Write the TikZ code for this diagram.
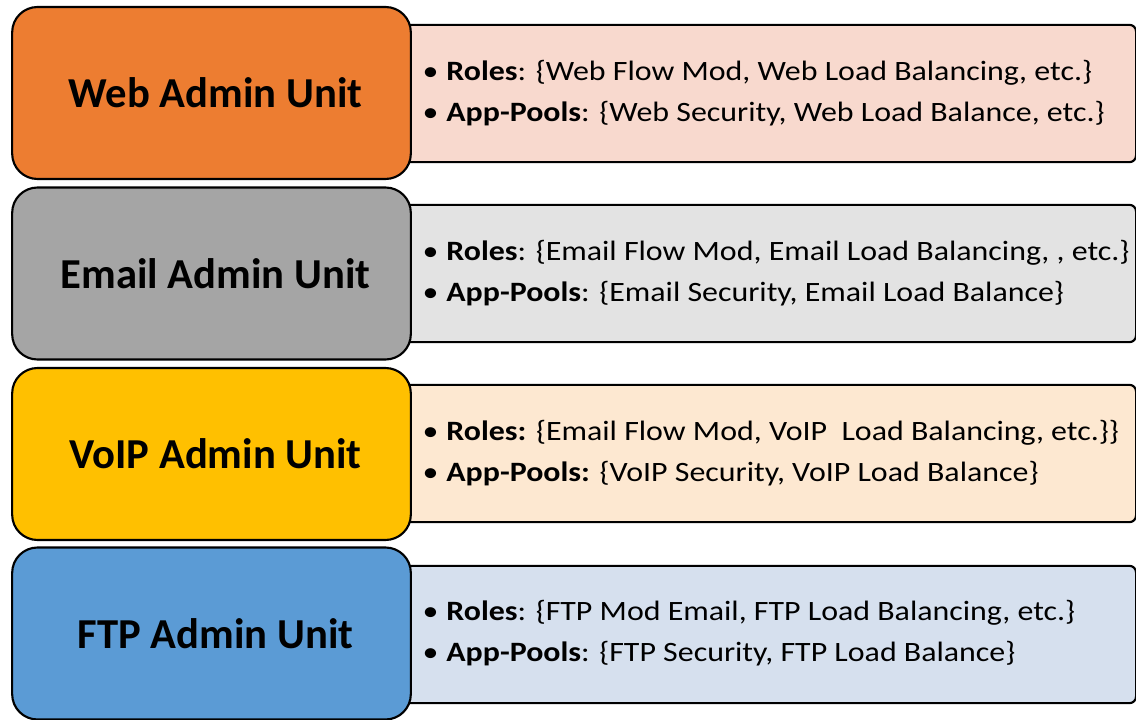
\documentclass[tikz,border=0pt]{standalone}
\usepackage{fontspec}
\setmainfont{Carlito}
\newfontfamily\infofont[FakeStretch=1.14]{Carlito}

\definecolor{webdark}{RGB}{237,125,49}
\definecolor{weblight}{RGB}{248,217,206}
\definecolor{maildark}{RGB}{165,165,165}
\definecolor{maillight}{RGB}{227,227,227}
\definecolor{voipdark}{RGB}{255,192,0}
\definecolor{voiplight}{RGB}{253,232,209}
\definecolor{ftpdark}{RGB}{91,155,213}
\definecolor{ftplight}{RGB}{214,224,238}

\tikzset{every picture/.style={line width=0.75pt}}
\tikzset{
  unitbox/.style={draw, line width=1.6pt, rounded corners=19pt, minimum width=299pt, minimum height=129pt, inner sep=0pt, font=\fontsize{32}{38}\selectfont\bfseries},
  infobox/.style={draw, line width=1.6pt, rounded corners=5pt, minimum width=555pt, minimum height=103pt, inner sep=0pt, anchor=west},
  infotext/.style={anchor=west, align=left, inner sep=0pt, font=\infofont\fontsize{21}{30.75}\selectfont}
}

\begin{document}
\begin{tikzpicture}[x=0.75pt,y=0.75pt,yscale=-1,xscale=1]
	\useasboundingbox (0,0) rectangle (1136,720);

	%Shape: Rectangle [web]
	\node [infobox, fill=weblight] (webinfo) at (395,93.5) {};
	\node [unitbox, fill=webdark] (web) at (211.5,93) {\hspace{6pt}Web Admin Unit};
	% Text Node
	\node [infotext] (webtext) at (422,93) {•\hspace{6pt}\textbf{Roles}: \{Web Flow Mod, Web Load Balancing, etc.\}\\ •\hspace{6pt}\textbf{App-Pools}: \{Web Security, Web Load Balance, etc.\}};

	%Shape: Rectangle [email]
	\node [infobox, fill=maillight] (mailinfo) at (395,273.5) {};
	\node [unitbox, fill=maildark] (mail) at (211.5,273.5) {\hspace{6pt}Email Admin Unit};
	% Text Node
	\node [infotext] (mailtext) at (422,273.5) {•\hspace{6pt}\textbf{Roles}: \{Email Flow Mod, Email Load Balancing, , etc.\}\\ •\hspace{6pt}\textbf{App-Pools}: \{Email Security, Email Load Balance\}};

	%Shape: Rectangle [voip]
	\node [infobox, fill=voiplight] (voipinfo) at (395,453.5) {};
	\node [unitbox, fill=voipdark] (voip) at (211.5,454) {\hspace{6pt}VoIP Admin Unit};
	% Text Node
	\node [infotext] (voiptext) at (422,453.5) {•\hspace{6pt}\textbf{Roles:} \{Email Flow Mod, VoIP\ \ Load Balancing, etc.\}\}\\ •\hspace{6pt}\textbf{App-Pools:} \{VoIP Security, VoIP Load Balance\}};

	%Shape: Rectangle [ftp]
	\node [infobox, fill=ftplight] (ftpinfo) at (395,634.5) {};
	\node [unitbox, fill=ftpdark] (ftp) at (211.5,633.5) {\hspace{6pt}FTP Admin Unit};
	% Text Node
	\node [infotext] (ftptext) at (422,633.5) {•\hspace{6pt}\textbf{Roles}: \{FTP Mod Email, FTP Load Balancing, etc.\}\\ •\hspace{6pt}\textbf{App-Pools}: \{FTP Security, FTP Load Balance\}};

\end{tikzpicture}
\end{document}
